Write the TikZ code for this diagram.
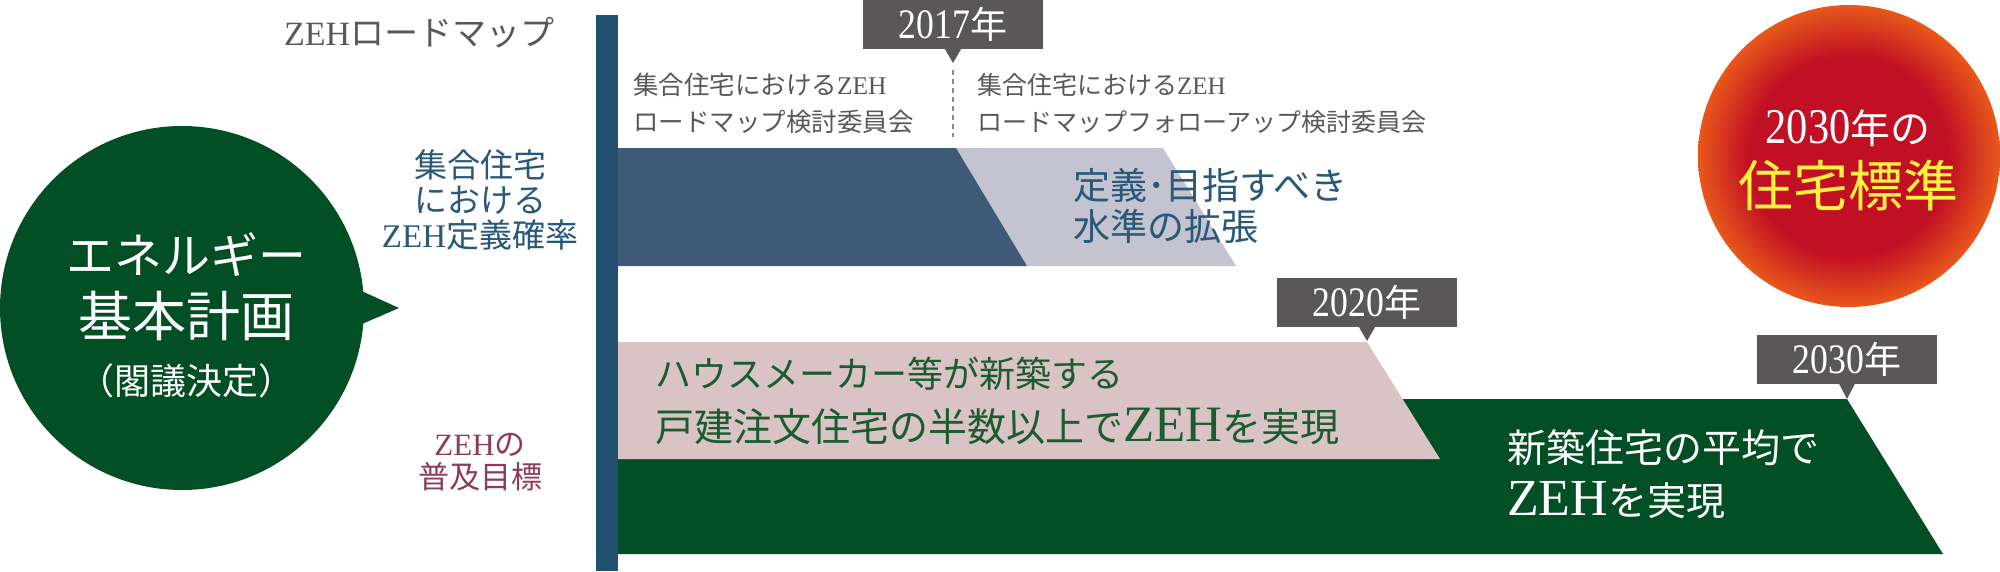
\documentclass[tikz,border=0pt]{standalone}
\usepackage{fontspec}
\setmainfont{Noto Sans CJK JP}
\newfontfamily\serifc[FakeStretch=0.85]{Liberation Serif}
\newfontfamily\serifn{Liberation Serif}
\newcommand\zehA{{\serifn ZEH}}
\newcommand\yeartxt[1]{{\fontsize{42}{42}\selectfont\serifc #1}{\fontsize{37}{37}\selectfont 年}}
\definecolor{barblue}{HTML}{22506E}
\definecolor{bandblue}{HTML}{3F5B78}
\definecolor{bandgray}{HTML}{C3C4CF}
\definecolor{bandpink}{HTML}{D9C3C5}
\definecolor{bandgreen}{HTML}{024F26}
\definecolor{txtblue}{HTML}{2A5878}
\definecolor{txtmaroon}{HTML}{8E3B57}
\definecolor{txtgray}{HTML}{595757}
\definecolor{boxgray}{HTML}{595757}
\definecolor{txtgreen}{HTML}{1A5C30}
\definecolor{sunred}{HTML}{C10F24}
\definecolor{sunorange}{HTML}{E8581A}
\definecolor{sunyellow}{HTML}{FFF23E}
\pgfdeclareradialshading{sunball}{\pgfpoint{0bp}{0bp}}{color(0bp)=(sunred); color(16.5bp)=(sunred); color(25bp)=(sunorange); color(50bp)=(sunorange)}
\begin{document}
\begin{tikzpicture}[x=1pt,y=-1pt,
  txt/.style={inner sep=0pt, outer sep=0pt},
  yearbox/.style={fill=boxgray, text=white, minimum width=180pt, minimum height=49pt, inner sep=0pt}]
\useasboundingbox (0,0) rectangle (2000,571);
% bands
\fill[bandgreen] (618,399) -- (1847,399) -- (1943,554) -- (618,554) -- cycle;
\fill[bandpink] (618,342) -- (1367,342) -- (1440,459) -- (618,459) -- cycle;
\fill[bandgray] (956,148) -- (1163,148) -- (1236,266) -- (1027,266) -- cycle;
\fill[bandblue] (618,148) -- (956,148) -- (1027,266) -- (618,266) -- cycle;
\fill[barblue] (596,15) rectangle (618,571);
% green speech circle
\fill[bandgreen] (182,308) circle[radius=182pt];
\fill[bandgreen] (355,288) -- (399,308) -- (355,327) -- cycle;
\node[txt, text=white, font=\fontsize{48}{48}\selectfont] (en1) at (186,255) {エネルギー};
\node[txt, text=white, font=\fontsize{54}{54}\selectfont] (en2) at (186,316) {基本計画};
\node[txt, text=white, font=\fontsize{36}{36}\selectfont] (en3) at (186,381) {（閣議決定）};
% title and side labels
\node[txt, text=txtgray, anchor=west, font=\fontsize{34}{34}\selectfont] (title) at (284,33) {\zehA ロードマップ};
\node[txt, text=txtblue, align=center, font=\fontsize{33}{35}\selectfont] (lab1) at (480,200) {集合住宅\\における\\\zehA 定義確率};
\node[txt, text=txtmaroon, align=center, font=\fontsize{31}{33}\selectfont] (lab2) at (480,462) {\zehA の\\普及目標};
% committees
\node[txt, text=txtgray, anchor=west, align=left, font=\fontsize{25.5}{37}\selectfont] (com1) at (633,103.5) {集合住宅における\zehA\\ロードマップ検討委員会};
\node[txt, text=txtgray, anchor=west, align=left, font=\fontsize{25}{37}\selectfont] (com2) at (977,103.5) {集合住宅における\zehA\\ロードマップフォローアップ検討委員会};
\coordinate (dtop) at (953,70);
\coordinate (dbot) at (953,137);
\draw[txtgray!70, line width=1.2pt, dash pattern=on 5pt off 4pt] (dtop) -- (dbot);
% year boxes
\node[yearbox] (y17) at (953,24.5) {\yeartxt{2017}};
\coordinate (t17) at (953,63);
\fill[boxgray] ([xshift=-8pt]y17.south) -- ([xshift=8pt]y17.south) -- (t17) -- cycle;
\node[yearbox] (y20) at (1367,302.5) {\yeartxt{2020}};
\coordinate (t20) at (1367,341);
\fill[boxgray] ([xshift=-8pt]y20.south) -- ([xshift=8pt]y20.south) -- (t20) -- cycle;
\node[yearbox] (y30) at (1847,359) {\yeartxt{2030}};
\coordinate (t30) at (1847,399);
\fill[boxgray] ([xshift=-8pt]y30.south) -- ([xshift=8pt]y30.south) -- (t30) -- cycle;
% band texts
\node[txt, text=txtblue, anchor=west, align=left, font=\fontsize{37}{41}\selectfont] (tgoal) at (1073,205.5) {定義･目指すべき\\水準の拡張};
\node[txt, text=txtgreen, anchor=west, align=left, font=\fontsize{36}{54}\selectfont] (tpink) at (655,401) {ハウスメーカー等が新築する\\{\fontsize{39}{39}\selectfont 戸建注文住宅の半数以上で{\fontsize{51}{51}\selectfont\serifn ZEH}を実現}};
\node[txt, text=white, anchor=west, align=left, font=\fontsize{39}{53}\selectfont] (tgreen) at (1507,474.5) {新築住宅の平均で\\{\fontsize{52}{52}\selectfont\serifn ZEH}を実現};
% 2030 standard ball
\shade[shading=sunball] (1849,156) circle[radius=151pt];
\node[txt, text=white] (sun1) at (1848,128) {{\fontsize{50}{50}\selectfont\serifc 2030}{\fontsize{40}{40}\selectfont 年の}};
\node[txt, text=sunyellow, font=\fontsize{55}{55}\selectfont] (sun2) at (1848,185) {住宅標準};
\end{tikzpicture}
\end{document}
